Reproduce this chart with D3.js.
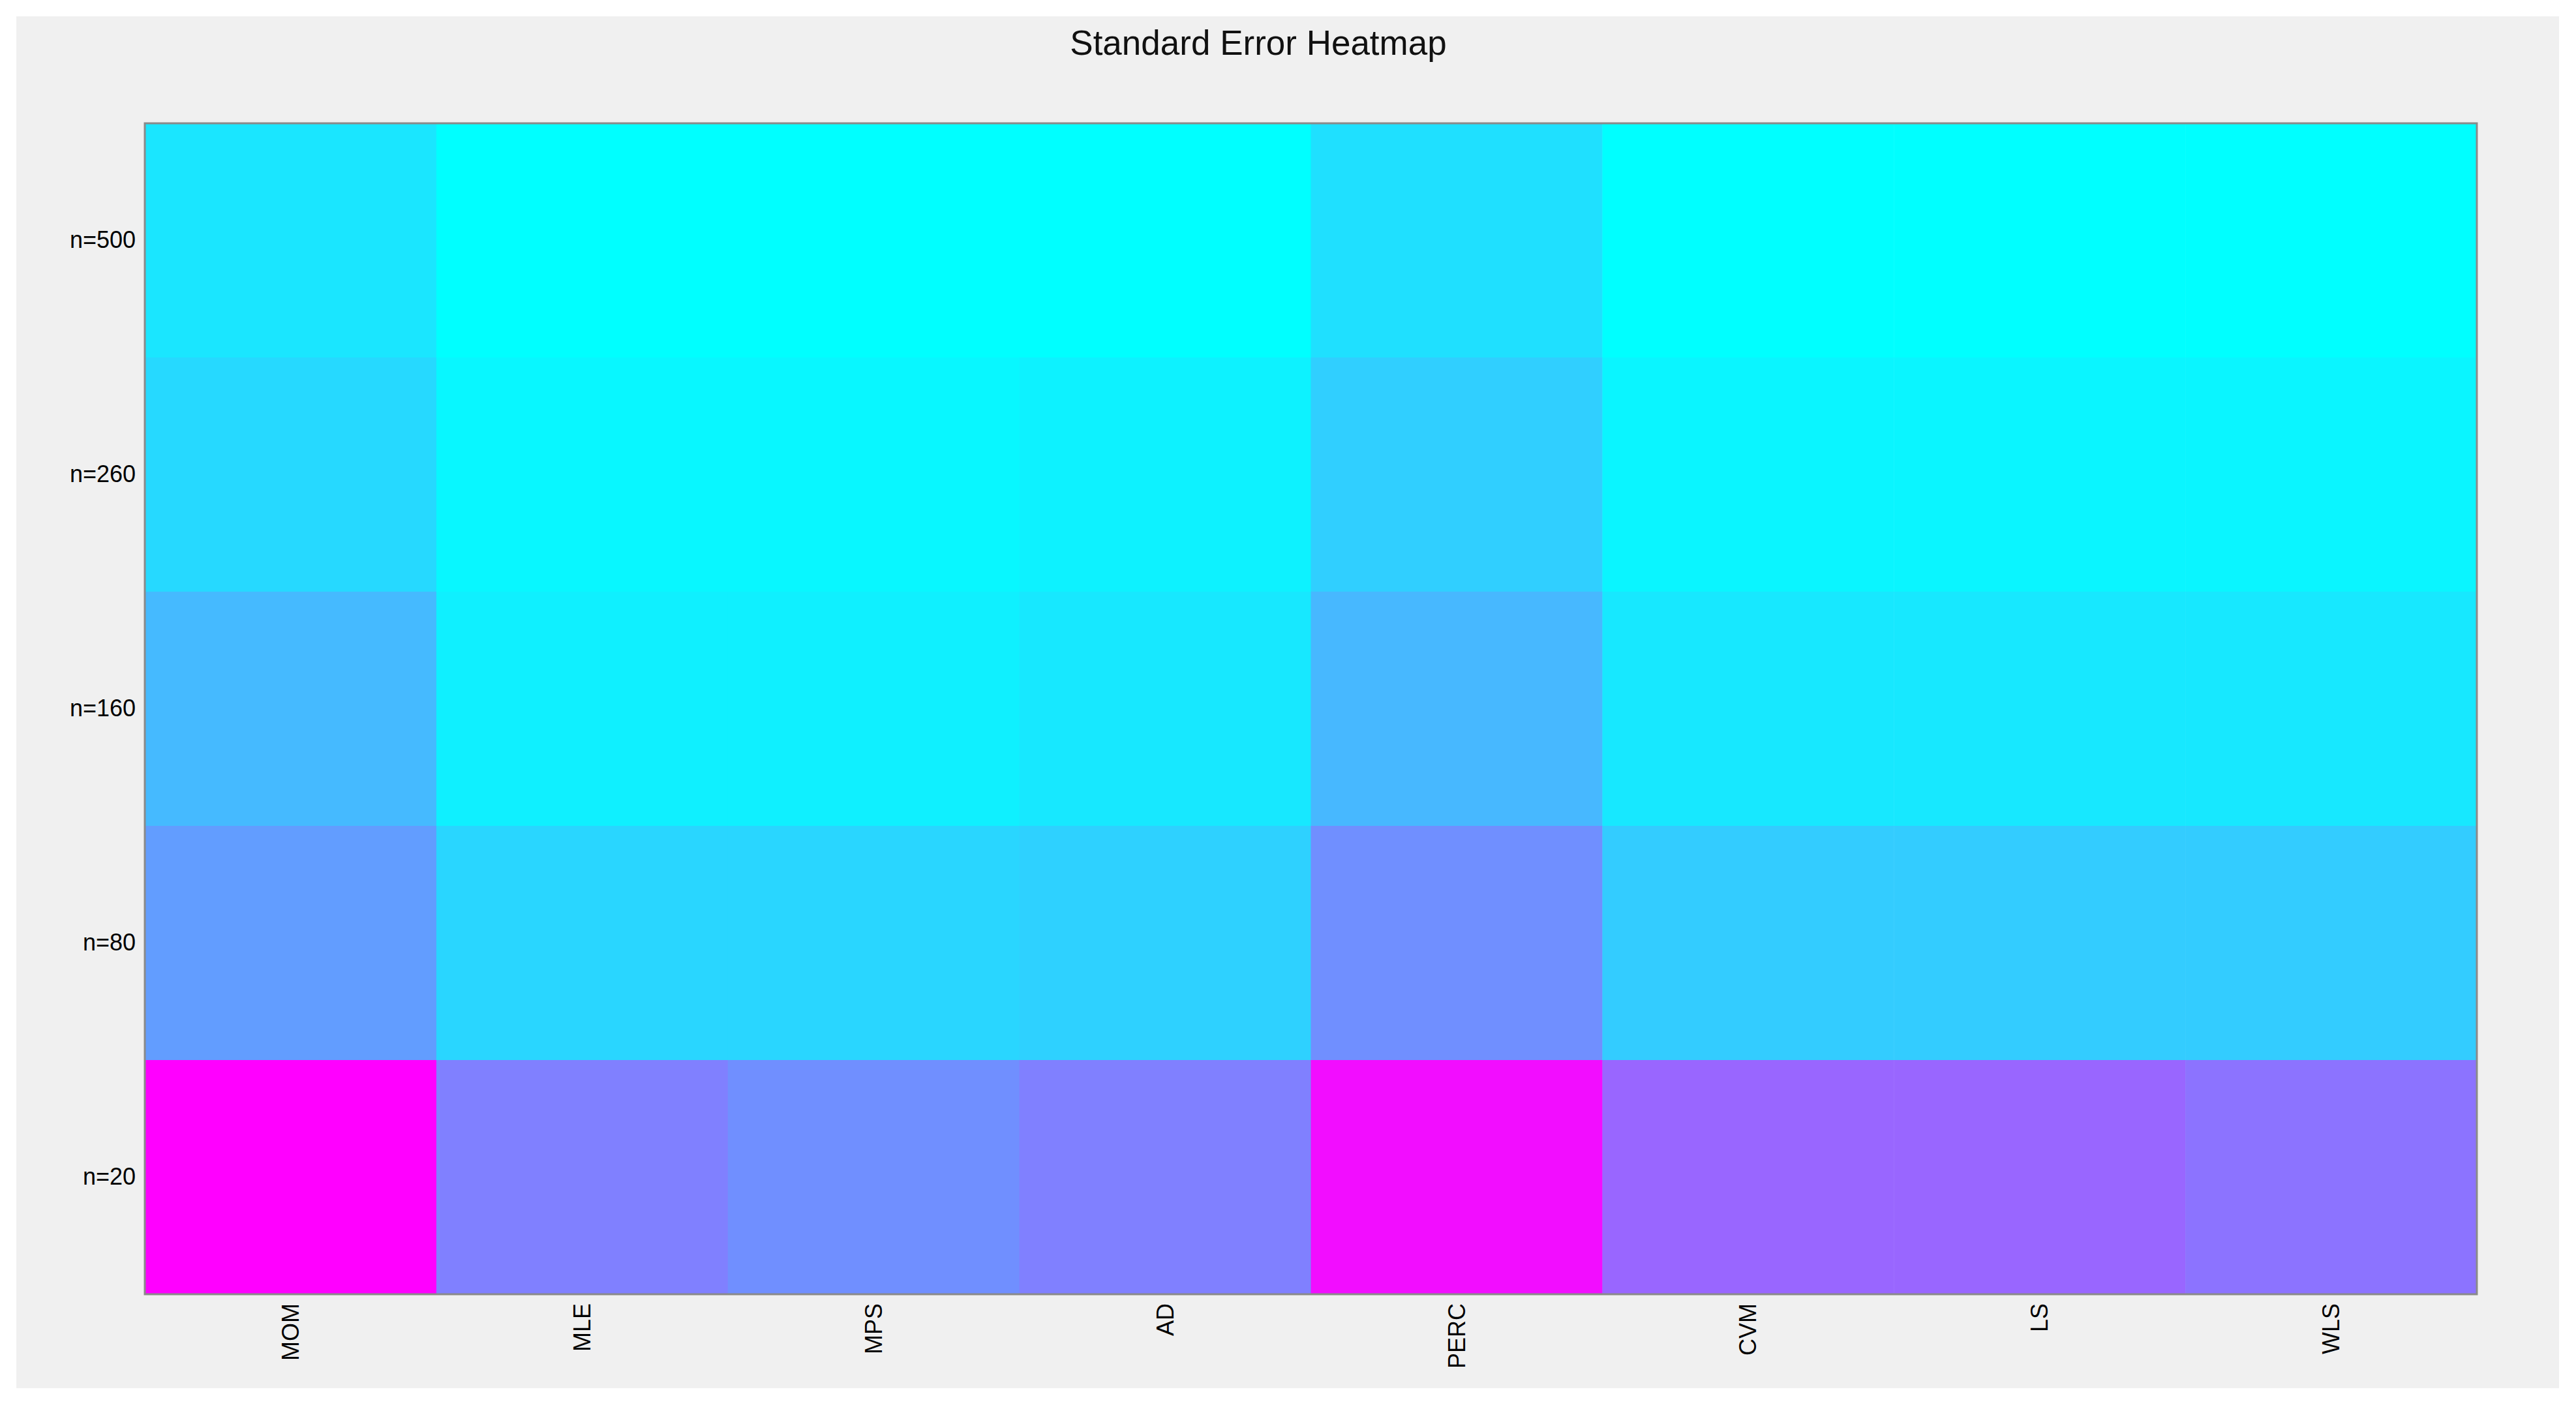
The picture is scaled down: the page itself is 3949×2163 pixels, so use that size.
<!DOCTYPE html>
<html>
<head>
<meta charset="utf-8">
<script src="https://cdn.jsdelivr.net/npm/d3@7"></script>
<style>
body { margin: 0; background: #fff; }
text { font-family: "Liberation Sans", Arial, sans-serif; }
</style>
</head>
<body>
<svg id="chart" width="3949" height="2163"></svg>
<script>
// data
var methods = ["MOM", "MLE", "MPS", "AD", "PERC", "CVM", "LS", "WLS"];
var sizes = ["n=500", "n=260", "n=160", "n=80", "n=20"];
var se500 = [0.10, 0.00, 0.00, 0.00, 0.12, 0.00, 0.00, 0.00];
var se260 = [0.15, 0.03, 0.03, 0.05, 0.19, 0.04, 0.04, 0.04];
var se160 = [0.27, 0.06, 0.06, 0.09, 0.28, 0.09, 0.09, 0.09];
var se80  = [0.385, 0.16, 0.16, 0.18, 0.44, 0.20, 0.20, 0.20];
var se20  = [1.00, 0.50, 0.44, 0.50, 0.95, 0.60, 0.60, 0.55];
var rows = [se500, se260, se160, se80, se20];

var svg = d3.select("#chart");
var pLeft = 222, pRight = 3797, pTop = 189, pBottom = 1984;

svg.append("rect").attr("x", 25).attr("y", 25).attr("width", 3898).attr("height", 2103).attr("fill", "#f0f0f0");

var x = d3.scaleBand().domain(methods).range([pLeft, pRight]);
var y = d3.scaleBand().domain(sizes).range([pTop, pBottom]);
var color = function (t) { return d3.rgb(255 * t, 255 * (1 - t), 255); };

var cells = [];
rows.forEach(function (r, i) {
    r.forEach(function (v, j) { cells.push({ m: methods[j], n: sizes[i], v: v }); });
});

svg.append("g").selectAll("rect").data(cells).enter().append("rect")
    .attr("x", function (d) { return x(d.m); })
    .attr("y", function (d) { return y(d.n); })
    .attr("width", x.bandwidth() + 0.5)
    .attr("height", y.bandwidth() + 0.5)
    .attr("fill", function (d) { return color(d.v); });

svg.append("rect").attr("x", pLeft).attr("y", pTop).attr("width", pRight - pLeft).attr("height", pBottom - pTop)
    .attr("fill", "none").attr("stroke", "#8a8a8a").attr("stroke-width", 3);

// y axis labels
var yAxis = svg.append("g").attr("transform", "translate(" + pLeft + ",0)")
    .call(d3.axisLeft(y).tickSize(0).tickPadding(14));
yAxis.select(".domain").remove();
yAxis.selectAll("text").attr("font-size", 36).attr("fill", "#000");

// x axis labels rotated
var xAxis = svg.append("g").attr("transform", "translate(0," + pBottom + ")")
    .call(d3.axisBottom(x).tickSize(0).tickPadding(0));
xAxis.select(".domain").remove();
xAxis.selectAll("text")
    .attr("font-size", 36).attr("fill", "#000")
    .attr("transform", "rotate(-90)")
    .attr("text-anchor", "end")
    .attr("x", -14).attr("y", 0).attr("dy", "0.35em");

svg.append("text").attr("x", 1929).attr("y", 84)
    .attr("text-anchor", "middle").attr("font-size", 53).attr("fill", "#111")
    .text("Standard Error Heatmap");
</script>
</body>
</html>
